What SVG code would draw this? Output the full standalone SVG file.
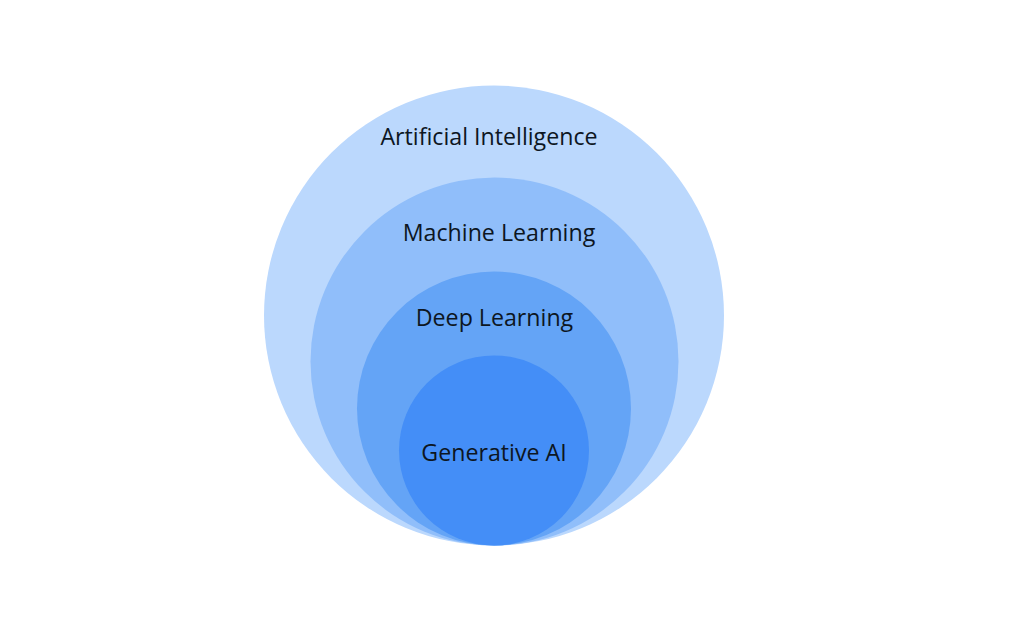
<svg xmlns="http://www.w3.org/2000/svg" width="1024" height="632" viewBox="0 0 1024 632">
<style>
text{font-family:"Open Sans","Liberation Sans",sans-serif;font-size:23.2px;fill:#0d1622;text-anchor:middle}
</style>
<rect width="1024" height="632" fill="#ffffff"/>
<g id="ai"><circle cx="494" cy="315.5" r="230" fill="#bbd8fd"/><text x="489" y="145">Artificial Intelligence</text></g>
<g id="ml"><circle cx="494.5" cy="361.5" r="184" fill="#90befa"/><text x="499" y="241">Machine Learning</text></g>
<g id="dl"><circle cx="494" cy="408.5" r="137" fill="#64a4f6"/><text x="494.5" y="326">Deep Learning</text></g>
<g id="gai"><circle cx="494" cy="450.5" r="95" fill="#448ef7"/><text x="494" y="461">Generative AI</text></g>
<g id="connectors"/>
</svg>
